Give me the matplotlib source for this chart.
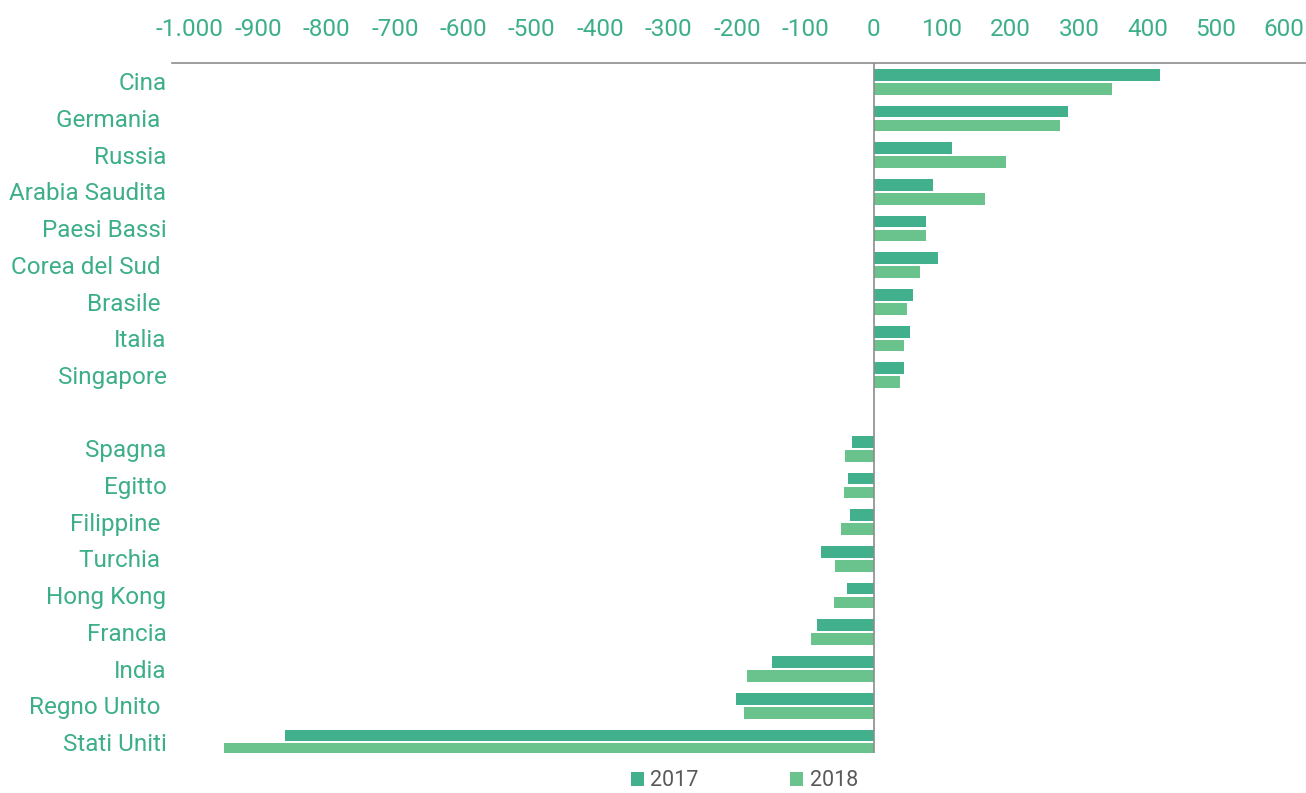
import numpy as np
import matplotlib.pyplot as plt
from matplotlib.ticker import FuncFormatter

# ---------------- data ----------------
paesi = ["Cina", "Germania ", "Russia", "Arabia Saudita", "Paesi Bassi",
         "Corea del Sud ", "Brasile ", "Italia", "Singapore", "",
         "Spagna", "Egitto", "Filippine ", "Turchia ", "Hong Kong",
         "Francia", "India", "Regno Unito ", "Stati Uniti"]
v2017 = [418, 284, 114, 86, 76, 94, 58, 53, 44, np.nan,
         -32, -37, -34, -77, -39, -83, -149, -202, -861]
v2018 = [349, 273, 193, 162, 76, 67, 48, 44, 39, np.nan,
         -42, -44, -48, -56, -58, -91, -186, -189, -950]
anni = ["2017", "2018"]
xticks = np.arange(-1000, 601, 100)

# ---------------- style ----------------
c2017 = "#43b08d"
c2018 = "#6ac28d"
label_color = "#3daf88"
plt.rcParams['font.family'] = ['Roboto', 'DejaVu Sans']

fig = plt.figure(figsize=(13.06, 7.93), dpi=100)
ax = fig.add_axes([172 / 1306, 1 - 753 / 793, 1 - 172 / 1306, (753 - 63) / 793])

y = np.arange(len(paesi))
h = 0.32
ax.barh(y - 0.18, v2017, height=h, color=c2017, label=anni[0])
ax.barh(y + 0.2, v2018, height=h, color=c2018, label=anni[1])

ax.set_xlim(-1026, 632)
ax.set_ylim(len(paesi) - 0.7, -0.5)
ax.axvline(0, color="#8c8c8c", linewidth=1.2, zorder=3)

ax.xaxis.tick_top()
ax.set_xticks(xticks)
ax.xaxis.set_major_formatter(FuncFormatter(lambda v, p: f"{int(v):,}".replace(",", ".")))
ax.tick_params(axis="x", length=0, pad=16, labelsize=17.5, labelcolor=label_color)
ax.set_yticks(y)
ax.set_yticklabels(paesi)
ax.tick_params(axis="y", length=0, pad=4, labelsize=17.5, labelcolor=label_color)

for s in ["left", "right", "bottom"]:
    ax.spines[s].set_visible(False)
ax.spines["top"].set_color("#8c8c8c")
ax.spines["top"].set_linewidth(1.2)

fig.legend(loc="center", bbox_to_anchor=(0.570, 1 - 781 / 793), ncol=2, frameon=False,
           fontsize=15.5, labelcolor="#595959", handlelength=0.6, handleheight=0.6,
           handletextpad=0.3, columnspacing=4.25, borderpad=0.1)

plt.savefig("out.png", dpi=100)
